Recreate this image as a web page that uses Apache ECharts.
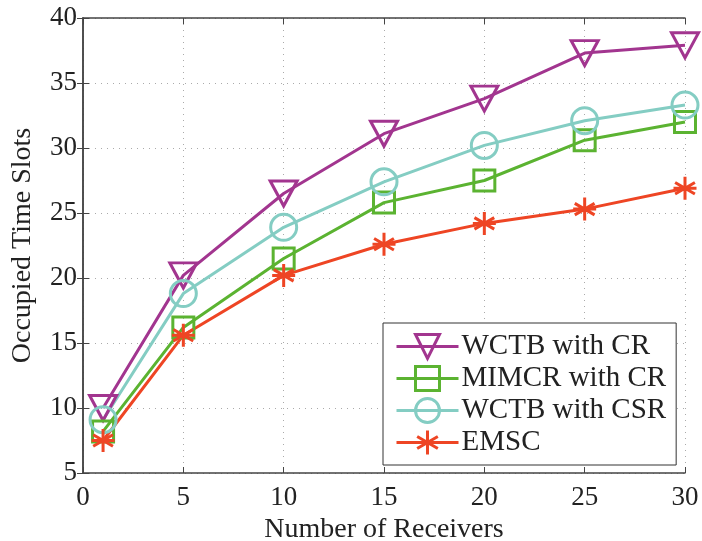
<!DOCTYPE html>
<html>
<head>
<meta charset="utf-8">
<script src="https://cdn.jsdelivr.net/npm/echarts@6/dist/echarts.min.js"></script>
<style>
html,body{margin:0;padding:0;background:#fff;}
#chart{width:702px;height:541px;}
</style>
</head>
<body>
<div id="chart"></div>
<script>
var receivers = [1, 5, 10, 15, 20, 25, 30];
var wctbCR   = [10.0, 20.2, 26.5, 31.1, 33.8, 37.3, 37.9];
var mimcrCR  = [8.2, 16.2, 21.5, 25.8, 27.5, 30.6, 32.0];
var wctbCSR  = [9.1, 18.8, 23.9, 27.4, 30.2, 32.1, 33.3];
var emsc     = [7.5, 15.6, 20.2, 22.6, 24.2, 25.3, 26.9];
var seriesNames = ['WCTB with CR', 'MIMCR with CR', 'WCTB with CSR', 'EMSC'];

function pairs(ys){ return receivers.map(function(x,i){ return [x, ys[i]]; }); }

var FONT = '"Liberation Serif", "Times New Roman", serif';
var triDown = 'path://M0,0 L10,0 L5,9 Z';
var star = 'path://M5,0 L5,10 M0.7,2.5 L9.3,7.5 M9.3,2.5 L0.7,7.5 M0,5 L10,5';

function mkSeries(name, ys, color, symbol, size){
  return {
    name: name, type: 'line', data: pairs(ys),
    symbol: symbol, symbolSize: size,
    showAllSymbol: true,
    lineStyle: {color: color, width: 3},
    itemStyle: {color: 'transparent', borderColor: color, borderWidth: 3},
    emphasis: {disabled: true},
    z: 3
  };
}

var chart = echarts.init(document.getElementById('chart'), null, {renderer: 'canvas'});
var axisColor = '#444';
chart.setOption({
  animation: false,
  backgroundColor: '#fff',
  grid: {left: 83, right: 17, top: 18, bottom: 68, containLabel: false, outerBoundsMode: 'none'},
  legend: {
    orient: 'vertical',
    left: 383, top: 323, width: 293, height: 141,
    padding: [9, 10, 8, 12],
    itemWidth: 62, itemHeight: 30, itemGap: 3,
    backgroundColor: '#fff',
    borderColor: '#333', borderWidth: 1,
    lineStyle: {width: 3},
    itemStyle: {borderWidth: 3},
    textStyle: {fontFamily: FONT, fontSize: 29, color: '#222', padding: [0,0,0,-2]},
    data: seriesNames
  },
  xAxis: [{
    type: 'value', min: 0, max: 30, interval: 5,
    name: 'Number of Receivers', nameLocation: 'middle', nameGap: 37,
    nameTextStyle: {fontFamily: FONT, fontSize: 28, color: '#222'},
    axisLine: {show: true, lineStyle: {color: axisColor, width: 1.5}},
    axisTick: {show: true, inside: true, length: 6, lineStyle: {color: axisColor}},
    axisLabel: {fontFamily: FONT, fontSize: 27, color: '#222', margin: 11},
    splitLine: {show: true, lineStyle: {color: '#aaa', type: [1, 5], width: 1}}
  }, {
    type: 'value', min: 0, max: 30, interval: 5, position: 'top',
    axisLine: {show: true, lineStyle: {color: axisColor, width: 1.5}},
    axisTick: {show: true, inside: true, length: 6, lineStyle: {color: axisColor}},
    axisLabel: {show: false}, splitLine: {show: false}
  }],
  yAxis: [{
    type: 'value', min: 5, max: 40, interval: 5,
    name: 'Occupied Time Slots', nameLocation: 'middle', nameGap: 46,
    nameTextStyle: {fontFamily: FONT, fontSize: 28, color: '#222'},
    axisLine: {show: true, lineStyle: {color: axisColor, width: 1.5}},
    axisTick: {show: true, inside: true, length: 6, lineStyle: {color: axisColor}},
    axisLabel: {fontFamily: FONT, fontSize: 27, color: '#222', margin: 6, padding: [4, 0, 0, 0]},
    splitLine: {show: true, lineStyle: {color: '#aaa', type: [1, 5], width: 1}}
  }, {
    type: 'value', min: 5, max: 40, interval: 5, position: 'right',
    axisLine: {show: true, lineStyle: {color: axisColor, width: 1.5}},
    axisTick: {show: true, inside: true, length: 6, lineStyle: {color: axisColor}},
    axisLabel: {show: false}, splitLine: {show: false}
  }],
  series: [
    mkSeries(seriesNames[0], wctbCR,  '#A2358F', triDown, [27, 25]),
    mkSeries(seriesNames[1], mimcrCR, '#5BB331', 'rect', [21, 21]),
    mkSeries(seriesNames[2], wctbCSR, '#84CDC3', 'circle', [26, 26]),
    mkSeries(seriesNames[3], emsc,    '#EE4524', star, [23, 23])
  ]
});
</script>
</body>
</html>
